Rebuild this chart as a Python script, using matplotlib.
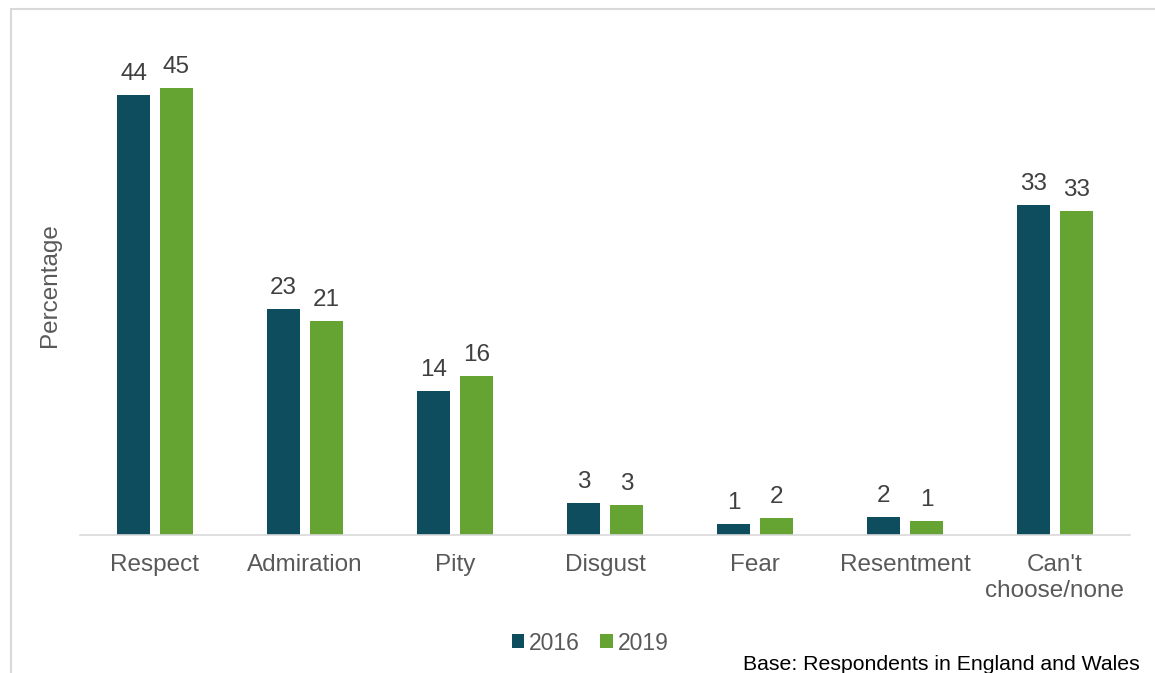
import matplotlib.pyplot as plt
from matplotlib.patches import Rectangle
import numpy as np

plt.rcParams["font.family"] = ["Liberation Sans", "DejaVu Sans"]

categories = ["Respect", "Admiration", "Pity", "Disgust", "Fear", "Resentment", "Can't\nchoose/none"]
vals_2016 = [44.0, 22.6, 14.4, 3.2, 1.1, 1.8, 33.0]
vals_2019 = [44.7, 21.4, 15.9, 3.0, 1.7, 1.4, 32.4]
labels_2016 = ["44", "23", "14", "3", "1", "2", "33"]
labels_2019 = ["45", "21", "16", "3", "2", "1", "33"]

c2016 = "#0E4D5E"
c2019 = "#65A332"
txt = "#404040"
fs = 17.5

fig = plt.figure(figsize=(11.55, 6.73), dpi=100)
fig.patches.append(Rectangle((11 / 1155, -0.1), 1.2, 1 - 9 / 673 + 0.1,
                             transform=fig.transFigure, fill=False,
                             edgecolor="#D9D9D9", linewidth=1.5))
ax = fig.add_axes([80 / 1155, 138 / 673, 1050 / 1155, 500 / 673])

x = np.arange(len(categories))
w = 0.22
b1 = ax.bar(x - 0.143, vals_2016, w, color=c2016, label="2016")
b2 = ax.bar(x + 0.143, vals_2019, w, color=c2019, label="2019")

for bars, labs in [(b1, labels_2016), (b2, labels_2019)]:
    for bar, lab in zip(bars, labs):
        ax.annotate(lab, (bar.get_x() + bar.get_width() / 2, bar.get_height()),
                    xytext=(0, 7), textcoords="offset points",
                    ha="center", va="bottom", fontsize=fs, color=txt)

ax.set_xlim(-0.5, len(categories) - 0.5)
ax.set_ylim(0, 50)
ax.set_yticks([])
ax.set_xticks(x)
ax.set_xticklabels(categories, fontsize=fs, color="#595959", linespacing=1.2)
ax.tick_params(axis="x", length=0, pad=14)
for s in ["top", "right", "left"]:
    ax.spines[s].set_visible(False)
ax.spines["bottom"].set_color("#D9D9D9")
ax.spines["bottom"].set_linewidth(1.2)

ax.set_ylabel("Percentage", fontsize=fs, color="#595959", labelpad=14)

fig.legend(handles=[b1, b2], loc="center", bbox_to_anchor=(590 / 1155, 1 - 643 / 673),
           ncol=2, frameon=False, fontsize=16.5, handlelength=0.55, handleheight=0.55,
           handletextpad=0.2, columnspacing=0.9, labelcolor="#595959")

fig.text(1140 / 1155, 1 - 664 / 673, "Base: Respondents in England and Wales",
         ha="right", va="center", fontsize=15.3, color="black")

fig.savefig("out.png", dpi=100)
